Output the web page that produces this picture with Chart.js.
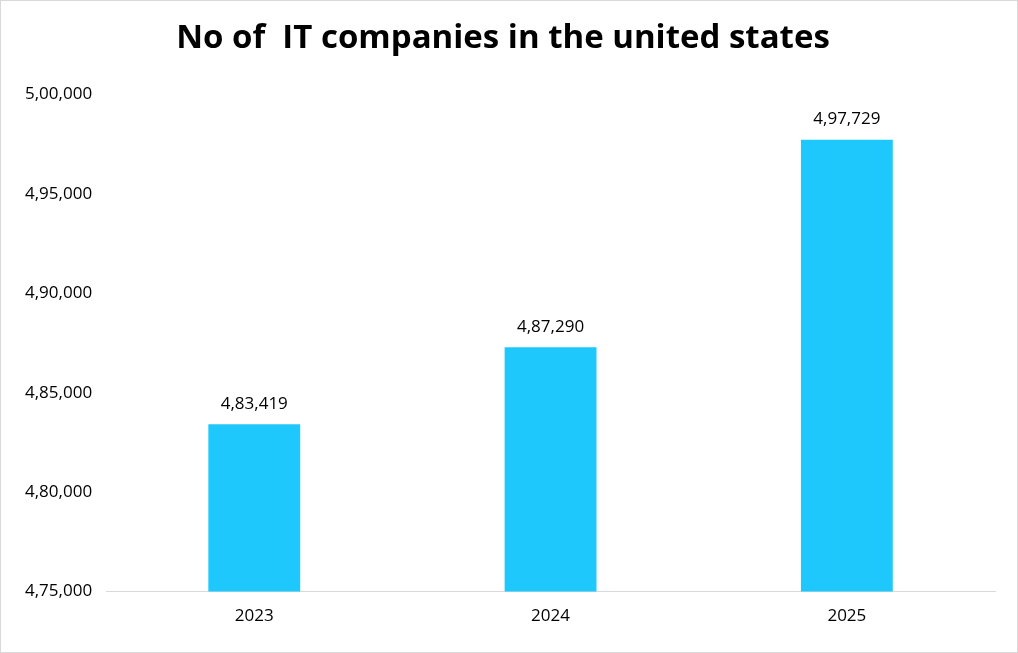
<!DOCTYPE html>
<html>
<head>
<script src="https://cdn.jsdelivr.net/npm/chart.js@4"></script>
<style>
  html, body { margin: 0; padding: 0; background: #fff; }
  #wrap { position: absolute; left: 0; top: 0; width: 1016px; height: 651px; border: 1px solid #d9d9d9; }
</style>
</head>
<body>
<div id="wrap"><canvas id="itChart" width="1016" height="651"></canvas></div>
<script>
// data
const years = ['2023', '2024', '2025'];
const companies = [483419, 487290, 497729];

// Indian style grouping, e.g. 4,83,419
function indianFormat(n) {
    const s = String(Math.round(n));
    if (s.length <= 3) return s;
    const last3 = s.slice(-3);
    const rest = s.slice(0, -3).replace(/\B(?=(\d{2})+(?!\d))/g, ',');
    return rest + ',' + last3;
}

const valueLabels = {
    id: 'valueLabels',
    afterDatasetsDraw(chart) {
        const ctx = chart.ctx;
        ctx.save();
        ctx.font = '17px "Open Sans", sans-serif';
        ctx.fillStyle = '#000';
        ctx.textAlign = 'center';
        ctx.textBaseline = 'bottom';
        chart.getDatasetMeta(0).data.forEach((bar, i) => {
            ctx.fillText(indianFormat(companies[i]), bar.x, bar.y - 12);
        });
        ctx.restore();
    }
};

const ctx = document.getElementById('itChart').getContext('2d');
const itChart = new Chart(ctx, {
    type: 'bar',
    data: {
        labels: years,
        datasets: [{
            data: companies,
            backgroundColor: '#1ec8fc',
            barPercentage: 0.31,
            categoryPercentage: 1
        }]
    },
    options: {
        responsive: false,
        animation: false,
        layout: { padding: { left: 10, right: 22, bottom: 12 } },
        plugins: {
            legend: { display: false },
            tooltip: { enabled: false },
            title: {
                display: true,
                text: 'No of  IT companies in the united states',
                color: '#000',
                font: { family: '"Open Sans", sans-serif', size: 33, weight: 'bold' },
                padding: { top: 18, bottom: 36 }
            }
        },
        scales: {
            x: {
                grid: { display: false, drawTicks: false },
                border: { color: '#d9d9d9' },
                ticks: { color: '#000', font: { family: '"Open Sans", sans-serif', size: 17 }, padding: 14 }
            },
            y: {
                min: 475000,
                max: 500000,
                grid: { display: false, drawTicks: false },
                border: { display: false },
                ticks: {
                    stepSize: 5000,
                    color: '#000',
                    padding: 14,
                    font: { family: '"Open Sans", sans-serif', size: 17 },
                    callback: v => indianFormat(v)
                }
            }
        }
    },
    plugins: [valueLabels]
});
</script>
</body>
</html>
